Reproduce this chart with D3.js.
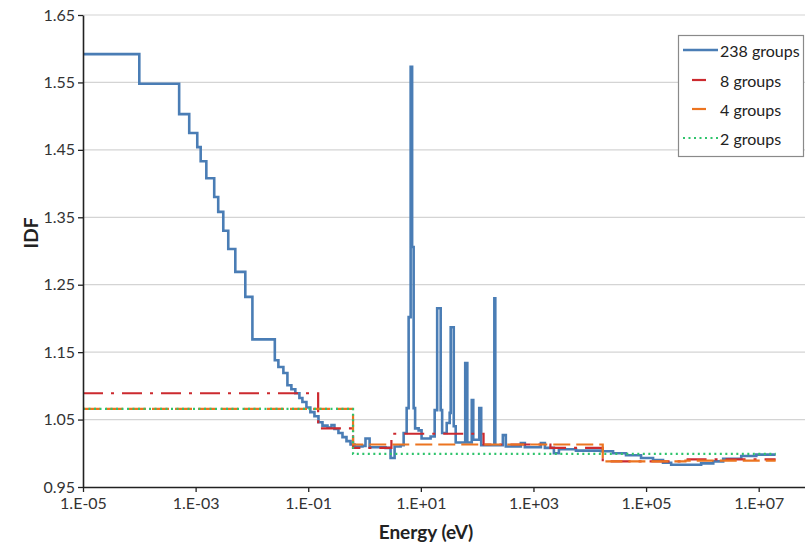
<!DOCTYPE html>
<html>
<head>
<meta charset="utf-8">
<script src="https://cdn.jsdelivr.net/npm/d3@7"></script>
<style>
  html, body { margin: 0; padding: 0; background: #fff; }
  svg { display: block; font-family: Lato, "Open Sans", sans-serif; }
</style>
</head>
<body>
<svg id="chart" width="805" height="547"></svg>
<script>
// Group structure: each row is [lower energy bound (eV), IDF for that group].
// The last group of every structure runs up to topEnergy.
const topEnergy = 2e7;

const groups238 = [
  [1e-5, 1.592], [1.0e-4, 1.548], [5.1e-4, 1.503], [7.7e-4, 1.475], [1.07e-3, 1.454],
  [1.23e-3, 1.433], [1.55e-3, 1.408], [2.14e-3, 1.380], [2.52e-3, 1.358], [3.10e-3, 1.330],
  [3.80e-3, 1.303], [5.07e-3, 1.269], [7.63e-3, 1.232], [1.02e-2, 1.169], [2.55e-2, 1.138],
  [2.95e-2, 1.128], [3.62e-2, 1.119], [4.27e-2, 1.101], [5.02e-2, 1.095], [5.9e-2, 1.089],
  [6.97e-2, 1.082], [7.88e-2, 1.076], [9.29e-2, 1.068], [0.109, 1.061], [0.129, 1.055],
  [0.152, 1.046], [0.179, 1.041], [0.220, 1.038], [0.259, 1.042], [0.292, 1.036],
  [0.344, 1.030], [0.406, 1.024], [0.478, 1.018], [0.564, 1.013], [0.664, 1.010],
  [0.92, 1.011], [1.04, 1.022], [1.23, 1.009], [2.36, 1.008], [2.90, 0.993],
  [3.42, 1.010], [4.37, 1.012], [4.95, 1.030], [5.60, 1.067], [6.07, 1.202],
  [6.59, 1.573], [7.0, 1.306], [7.45, 1.067], [7.91, 1.037], [9.14, 1.034],
  [10.3, 1.022], [14.9, 1.025], [17.6, 1.064], [19.5, 1.215], [22.5, 1.064],
  [23.9, 1.030], [28.8, 1.045], [32.5, 1.060], [33.9, 1.187], [38.4, 1.040],
  [41.6, 1.016], [61.4, 1.134], [66.9, 1.016], [80.2, 1.079], [85.3, 1.020],
  [109, 1.067], [118, 1.012], [202, 1.230], [210, 1.012], [286, 1.027],
  [323, 1.010], [597, 1.015], [703, 1.009], [1355, 1.015], [1596, 1.008],
  [2307, 1.000], [2831, 1.006], [5680, 1.004], [15800, 1.003], [25900, 1.000],
  [44000, 0.997], [81400, 0.993], [1.33e5, 0.990], [2.0e5, 0.986], [2.79e5, 0.983],
  [9.5e5, 0.985], [1.56e6, 0.988], [2.34e6, 0.992], [4.9e6, 0.996], [9.06e6, 0.998]
];

const groups8 = [
  [1e-5, 1.089], [0.15, 1.037], [0.625, 1.008], [3.0, 1.029],
  [130, 1.013], [2000, 1.008], [1.7e4, 0.988], [5e5, 0.991]
];

const groups4 = [
  [1e-5, 1.066], [0.625, 1.013], [1.7e4, 0.988], [5e5, 0.989]
];

const groups2 = [
  [1e-5, 1.066], [0.625, 0.999]
];

const seriesNames = ["238 groups", "8 groups", "4 groups", "2 groups"];

const yTicks = [0.95, 1.05, 1.15, 1.25, 1.35, 1.45, 1.55, 1.65];
const xTicks = [1e-5, 1e-3, 1e-1, 1e1, 1e3, 1e5, 1e7];
const xTickLabels = ["1.E-05", "1.E-03", "1.E-01", "1.E+01", "1.E+03", "1.E+05", "1.E+07"];

// ---- layout ----
const svg = d3.select("#chart");
const W = 805, H = 547;
const plot = { left: 83, top: 15, bottom: 487, right: 815 };

const x = d3.scaleLog().domain([1e-5, 1e8]).range([plot.left, plot.right]);
const y = d3.scaleLinear().domain([0.95, 1.65]).range([plot.bottom, plot.top]);

// horizontal gridlines
svg.append("g")
  .selectAll("line")
  .data(yTicks.slice(1))
  .join("line")
  .attr("x1", plot.left).attr("x2", W)
  .attr("y1", d => y(d)).attr("y2", d => y(d))
  .attr("stroke", "#d4d4d4").attr("stroke-width", 1.2);

svg.append("defs").append("clipPath").attr("id", "plotClip")
  .append("rect")
  .attr("x", plot.left).attr("y", 0)
  .attr("width", W - plot.left).attr("height", plot.bottom);

// step lines
const stepLine = d3.line()
  .x(d => x(d[0]))
  .y(d => y(d[1]))
  .curve(d3.curveStepAfter);

const withEnd = g => g.concat([[topEnergy, g[g.length - 1][1]]]);

const styles = [
  { data: groups238, color: "#4a7db5", width: 2.6, dash: null },
  { data: groups8,   color: "#cc2a2f", width: 2.2, dash: "20,8,3,8" },
  { data: groups4,   color: "#ec7420", width: 2.2, dash: "17,6" },
  { data: groups2,   color: "#2fc46c", width: 2.2, dash: "2,3.5" }
];

const lines = svg.append("g").attr("clip-path", "url(#plotClip)");
styles.forEach(s => {
  lines.append("path")
    .datum(withEnd(s.data))
    .attr("d", stepLine)
    .attr("fill", "none")
    .attr("stroke", s.color)
    .attr("stroke-width", s.width)
    .attr("stroke-linejoin", "miter")
    .attr("stroke-dasharray", s.dash);
});

// axes
const yAxis = svg.append("g")
  .attr("transform", `translate(${plot.left},0)`)
  .call(d3.axisLeft(y).tickValues(yTicks).tickFormat(d3.format(".2f"))
    .tickSize(5).tickSizeOuter(0).tickPadding(3));

const xAxis = svg.append("g")
  .attr("transform", `translate(0,${plot.bottom})`)
  .call(d3.axisBottom(x).tickValues(xTicks)
    .tickFormat((d, i) => xTickLabels[i])
    .tickSize(5).tickSizeOuter(0).tickPadding(6));

[yAxis, xAxis].forEach(a => {
  a.select(".domain").attr("stroke", "#222").attr("stroke-width", 1.6);
  a.selectAll(".tick line").attr("stroke", "#222").attr("stroke-width", 1.3);
  a.selectAll(".tick text")
    .attr("fill", "#333")
    .style("font-size", "16px")
    .style("font-family", "Lato, 'Open Sans', sans-serif");
});

// axis titles
svg.append("text")
  .attr("x", 426).attr("y", 539)
  .attr("text-anchor", "middle")
  .attr("fill", "#222")
  .style("font-size", "19px").style("font-weight", "bold")
  .text("Energy (eV)");

svg.append("text")
  .attr("transform", "translate(30,233) rotate(-90)")
  .attr("text-anchor", "middle")
  .attr("dominant-baseline", "central")
  .attr("fill", "#222")
  .style("font-size", "19px").style("font-weight", "bold")
  .text("IDF");

// legend
const legend = svg.append("g");
legend.append("rect")
  .attr("x", 678.5).attr("y", 35.5)
  .attr("width", 125).attr("height", 121)
  .attr("fill", "#fff").attr("stroke", "#8a8a8a").attr("stroke-width", 1.2);

const legendRows = [50, 80, 109, 138];
const sampleSpan = [[683, 718], [692, 706], [692, 706], [683, 718]];
styles.forEach((s, i) => {
  legend.append("line")
    .attr("x1", sampleSpan[i][0]).attr("x2", sampleSpan[i][1])
    .attr("y1", legendRows[i]).attr("y2", legendRows[i])
    .attr("stroke", s.color).attr("stroke-width", s.width)
    .attr("stroke-dasharray", s.dash);
  legend.append("text")
    .attr("x", 720).attr("y", legendRows[i])
    .attr("dominant-baseline", "central")
    .attr("fill", "#222")
    .style("font-size", "16px")
    .text(seriesNames[i]);
});
</script>
</body>
</html>
